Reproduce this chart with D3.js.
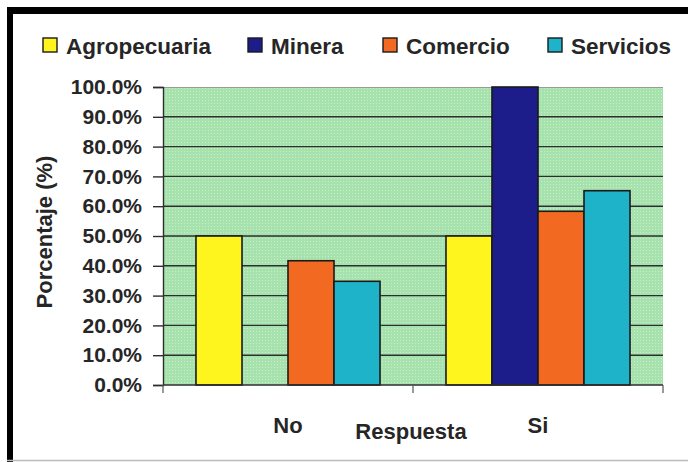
<!DOCTYPE html>
<html>
<head>
<meta charset="utf-8">
<script src="https://cdn.jsdelivr.net/npm/d3@7"></script>
<style>
  html, body { margin: 0; padding: 0; background: #ffffff; }
  svg { display: block; }
  text { font-family: Arial, "Liberation Sans", sans-serif; fill: #262626; }
</style>
</head>
<body>
<svg id="chart" width="688" height="462"></svg>
<script>
const categories = ["No", "Si"];
const seriesNames = ["Agropecuaria", "Minera", "Comercio", "Servicios"];
const seriesColors = ["#fff51e", "#1c1c8a", "#f26a22", "#1fb3c9"];
const agropecuaria = [50.0, 50.0];
const minera = [0.0, 100.0];
const comercio = [41.7, 58.3];
const servicios = [34.8, 65.2];
const yTicks = [0, 10, 20, 30, 40, 50, 60, 70, 80, 90, 100];
const xTitle = "Respuesta";
const yTitle = "Porcentaje (%)";

const seriesValues = [agropecuaria, minera, comercio, servicios];
const data = [];
categories.forEach((c, ci) => {
  seriesNames.forEach((s, si) => {
    data.push({ cat: c, series: s, si: si, value: seriesValues[si][ci] });
  });
});

const svg = d3.select("#chart");

// outer frame
svg.append("line").attr("x1", 10).attr("x2", 10).attr("y1", 7).attr("y2", 462)
  .attr("stroke", "#000").attr("stroke-width", 6);
svg.append("line").attr("x1", 7).attr("x2", 688).attr("y1", 10.5).attr("y2", 10.5)
  .attr("stroke", "#000").attr("stroke-width", 7);
svg.append("line").attr("x1", 7).attr("x2", 688).attr("y1", 460.5).attr("y2", 460.5)
  .attr("stroke", "#bbbbbb").attr("stroke-width", 1.5);

const plot = { left: 163, right: 663, top: 87, bottom: 385 };

const x = d3.scaleBand().domain(categories).range([plot.left, plot.right]).paddingInner(0).paddingOuter(0);
const xi = d3.scaleBand().domain(seriesNames).range([0, x.bandwidth()]).paddingInner(0).paddingOuter(0.717);
const y = d3.scaleLinear().domain([0, 100]).range([plot.bottom, plot.top]);

// plot background with subtle dotted texture
const defs = svg.append("defs");
const pat = defs.append("pattern").attr("id", "dots").attr("width", 3).attr("height", 3)
  .attr("patternUnits", "userSpaceOnUse");
pat.append("rect").attr("width", 3).attr("height", 3).attr("fill", "#a6e2b0");
pat.append("rect").attr("x", 1).attr("y", 1).attr("width", 1).attr("height", 1).attr("fill", "#cfefb8");

svg.append("rect")
  .attr("x", plot.left).attr("y", plot.top)
  .attr("width", plot.right - plot.left).attr("height", plot.bottom - plot.top)
  .attr("fill", "url(#dots)");
svg.append("line").attr("x1", plot.left).attr("x2", plot.right)
  .attr("y1", plot.top + 0.5).attr("y2", plot.top + 0.5)
  .attr("stroke", "#9a9a9a").attr("stroke-width", 1);

// gridlines
svg.append("g").selectAll("line")
  .data(yTicks.filter(t => t > 0 && t < 100))
  .join("line")
  .attr("x1", plot.left).attr("x2", plot.right)
  .attr("y1", d => y(d)).attr("y2", d => y(d))
  .attr("stroke", "#2e2e2e").attr("stroke-width", 1.4);

// y axis
const yAxis = d3.axisLeft(y).tickValues(yTicks).tickSize(10).tickPadding(11)
  .tickFormat(d => d.toFixed(1) + "%");
const gy = svg.append("g").attr("transform", `translate(${plot.left},0)`).call(yAxis);
gy.select(".domain").attr("stroke", "#2e2e2e").attr("stroke-width", 1.4);
gy.selectAll(".tick line").attr("stroke", "#2e2e2e").attr("stroke-width", 1.4);
gy.selectAll(".tick text")
  .attr("font-size", 21).attr("font-weight", "bold").attr("fill", "#262626")
  .attr("font-family", "Arial, 'Liberation Sans', sans-serif");

// bars
svg.append("g").selectAll("rect")
  .data(data.filter(d => d.value > 0))
  .join("rect")
  .attr("x", d => x(d.cat) + xi(d.series))
  .attr("y", d => y(d.value))
  .attr("width", xi.bandwidth())
  .attr("height", d => y(0) - y(d.value))
  .attr("fill", d => seriesColors[d.si])
  .attr("stroke", "#1a1a1a").attr("stroke-width", 1.6);

// x axis
svg.append("line").attr("x1", plot.left).attr("x2", plot.right)
  .attr("y1", plot.bottom).attr("y2", plot.bottom)
  .attr("stroke", "#2e2e2e").attr("stroke-width", 1.4);
const boundaries = categories.map(c => x(c)).concat([x(categories[categories.length - 1]) + x.bandwidth()]);
svg.append("g").selectAll("line").data(boundaries).join("line")
  .attr("x1", d => d).attr("x2", d => d)
  .attr("y1", plot.bottom).attr("y2", plot.bottom + 8)
  .attr("stroke", "#555").attr("stroke-width", 1.2);

svg.append("g").selectAll("text").data(categories).join("text")
  .attr("x", d => x(d) + x.bandwidth() / 2)
  .attr("y", 433)
  .attr("text-anchor", "middle")
  .attr("font-size", 22).attr("font-weight", "bold")
  .text(d => d);

svg.append("text")
  .attr("x", 411).attr("y", 439)
  .attr("text-anchor", "middle")
  .attr("font-size", 22).attr("font-weight", "bold")
  .text(xTitle);

svg.append("text")
  .attr("transform", "translate(52,232) rotate(-90)")
  .attr("text-anchor", "middle")
  .attr("font-size", 22).attr("font-weight", "bold")
  .text(yTitle);

// legend (swatch left edges as in the reference layout)
const legendX = [43, 248, 383, 548];
const legend = svg.append("g");
seriesNames.forEach((s, i) => {
  const lx = legendX[i];
  legend.append("rect")
    .attr("x", lx).attr("y", 38).attr("width", 14).attr("height", 14)
    .attr("fill", seriesColors[i]).attr("stroke", "#1a1a1a").attr("stroke-width", 1.4);
  legend.append("text")
    .attr("x", lx + 23).attr("y", 53.5)
    .attr("font-size", 22.5).attr("font-weight", "bold")
    .text(s);
});
</script>
</body>
</html>
